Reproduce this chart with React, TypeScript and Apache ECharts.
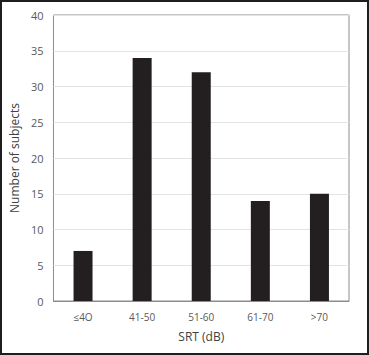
import React, { useEffect, useRef } from "react";
import * as echarts from "echarts";

const categories = ["≤4O", "41-50", "51-60", "61-70", ">70"];
const subjects = [7, 34, 32, 14, 15];
const yTicks = { min: 0, max: 40, interval: 5 };

export default function App() {
  const ref = useRef<HTMLDivElement>(null);
  useEffect(() => {
    document.body.style.margin = "0";
    const chart = echarts.init(ref.current!, null, { renderer: "svg" });
    const font = "'Open Sans', 'Liberation Sans', sans-serif";
    chart.setOption({
      animation: false,
      backgroundColor: "#ffffff",
      graphic: [
        {
          type: "rect",
          shape: { x: 1, y: 1, width: 367, height: 353 },
          style: { fill: "none", stroke: "#1e1e1e", lineWidth: 2 },
          silent: true,
        },
      ],
      grid: {
        left: 53,
        right: 20,
        top: 15,
        bottom: 54,
        show: true,
        borderColor: "#8c8c8c",
        borderWidth: 1,
      },
      xAxis: {
        type: "category",
        data: categories,
        name: "SRT (dB)",
        nameLocation: "middle",
        nameGap: 29,
        nameTextStyle: { color: "#404040", fontSize: 12, fontFamily: font },
        axisTick: { show: false },
        axisLine: { lineStyle: { color: "#8c8c8c" } },
        axisLabel: { color: "#595959", fontSize: 10, fontFamily: font, margin: 11 },
      },
      yAxis: {
        type: "value",
        min: yTicks.min,
        max: yTicks.max,
        interval: yTicks.interval,
        name: "Number of subjects",
        nameLocation: "middle",
        nameGap: 26,
        nameTextStyle: { color: "#404040", fontSize: 12, fontFamily: font },
        axisLine: { show: false },
        axisTick: { show: false },
        axisLabel: { color: "#595959", fontSize: 11, fontFamily: font, margin: 10 },
        splitLine: { lineStyle: { color: "#e3e3e3", width: 1 } },
      },
      series: [
        {
          type: "bar",
          data: subjects,
          barWidth: 19,
          itemStyle: { color: "#231f20" },
        },
      ],
    });
    return () => chart.dispose();
  }, []);
  return <div ref={ref} style={{ width: 369, height: 355 }} />;
}
